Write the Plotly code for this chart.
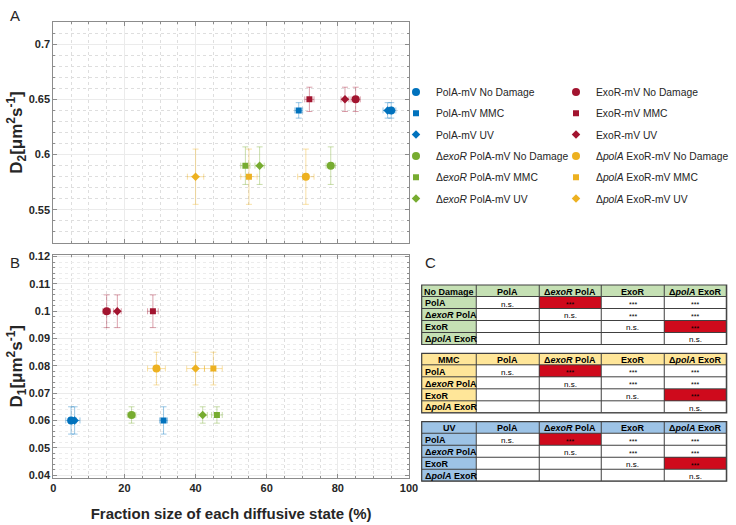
import plotly.graph_objects as go

# ---------------- data ----------------
series_names = [
    "PolA-mV No Damage", "PolA-mV MMC", "PolA-mV UV",
    "ExoR-mV No Damage", "ExoR-mV MMC", "ExoR-mV UV",
    "Δ<i>exoR</i> PolA-mV No Damage", "Δ<i>exoR</i> PolA-mV MMC", "Δ<i>exoR</i> PolA-mV UV",
    "Δ<i>polA</i> ExoR-mV No Damage", "Δ<i>polA</i> ExoR-mV MMC", "Δ<i>polA</i> ExoR-mV UV",
]
series_colors = ["#0072BD"] * 3 + ["#A2142F"] * 3 + ["#77AC30"] * 3 + ["#EDB120"] * 3
series_symbols = ["circle", "square", "diamond"] * 4
series_legend = ["legend"] * 3 + ["legend2"] * 3 + ["legend"] * 3 + ["legend2"] * 3

# Panel A: fast state (D2)
frac_fast = [95, 69, 94, 85, 72, 82, 78, 54, 58, 71, 55, 40]
frac_fast_err = [1.3, 1.1, 1.3, 1.3, 1.3, 1.1, 1.3, 1.3, 1.3, 2.3, 2.3, 2.3]
d2 = [0.64, 0.64, 0.64, 0.65, 0.65, 0.65, 0.59, 0.59, 0.59, 0.58, 0.58, 0.58]
d2_err = [0.007, 0.007, 0.007, 0.011, 0.011, 0.011, 0.017, 0.017, 0.017, 0.025, 0.025, 0.025]

# Panel B: slow state (D1)
frac_slow = [5, 31, 6, 15, 28, 18, 22, 46, 42, 29, 45, 40]
frac_slow_err = [1.5, 1.1, 1.5, 1.1, 1.5, 1.1, 1.2, 1.5, 1.3, 2.5, 2.5, 2.5]
d1 = [0.060, 0.060, 0.060, 0.100, 0.100, 0.100, 0.062, 0.062, 0.062, 0.079, 0.079, 0.079]
d1_err = [0.005, 0.005, 0.005, 0.006, 0.006, 0.006, 0.003, 0.003, 0.003, 0.006, 0.006, 0.006]

# Panel C: pairwise significance tables
table_conditions = ["No Damage", "MMC", "UV"]
table_header_colors = ["#c5e0b4", "#ffe699", "#9dc3e6"]
strain_labels = ["PolA", "Δ<i>exoR</i> PolA", "ExoR", "Δ<i>polA</i> ExoR"]
sig_matrix = [
    ["n.s.", "***", "***", "***"],
    ["", "n.s.", "***", "***"],
    ["", "", "n.s.", "***"],
    ["", "", "", "n.s."],
]
highlight = [(0, 1), (2, 3)]  # (row, col) highlighted red
table_col_widths = [55, 62.5, 62.5, 62.5, 62.5]

# ---------------- figure ----------------
W, H = 736, 525
FONT = "Liberation Sans, Arial, Helvetica, sans-serif"
TXT = "#262626"
RED = "#cf0a1c"
BORDER = "#404040"


def rgba(hexc, a):
    h = hexc.lstrip("#")
    return "rgba(%d,%d,%d,%.2f)" % (int(h[0:2], 16), int(h[2:4], 16), int(h[4:6], 16), a)


marker_sizes = {"circle": 8, "square": 6, "diamond": 6.5}

fig = go.Figure()
for i, name in enumerate(series_names):
    col = series_colors[i]
    sym = series_symbols[i]
    ecol = rgba(col, 0.4)
    fig.add_trace(go.Scatter(
        x=[frac_fast[i]], y=[d2[i]], mode="markers", name=name,
        marker=dict(color=col, symbol=sym, size=marker_sizes[sym], line=dict(width=0)),
        error_x=dict(type="data", array=[frac_fast_err[i]], color=ecol, thickness=1, width=3),
        error_y=dict(type="data", array=[d2_err[i]], color=ecol, thickness=1, width=3),
        xaxis="x", yaxis="y", legend=series_legend[i], legendgroup="g%d" % i,
        showlegend=True,
    ))
for i, name in enumerate(series_names):
    col = series_colors[i]
    sym = series_symbols[i]
    ecol = rgba(col, 0.4)
    fig.add_trace(go.Scatter(
        x=[frac_slow[i]], y=[d1[i]], mode="markers", name=name,
        marker=dict(color=col, symbol=sym, size=marker_sizes[sym], line=dict(width=0)),
        error_x=dict(type="data", array=[frac_slow_err[i]], color=ecol, thickness=1, width=3),
        error_y=dict(type="data", array=[d1_err[i]], color=ecol, thickness=1, width=3),
        xaxis="x2", yaxis="y2", legend=series_legend[i], legendgroup="g%d" % i,
        showlegend=False,
    ))

# ---------------- tables (heatmaps) ----------------
x_edges = [0]
for w in table_col_widths:
    x_edges.append(x_edges[-1] + w)
x_centers = [(x_edges[k] + x_edges[k + 1]) / 2 for k in range(5)]

tbl_x = [421.7 / W, 726.7 / W]
tbl_tops = [285, 353.3, 421.7]
row_h = 11.9
annotations = []
shapes = []
layout_axes = {}
for t, cond in enumerate(table_conditions):
    hc = table_header_colors[t]
    xa = "x%d" % (t + 3)
    ya = "y%d" % (t + 3)
    z = [[1, 1, 1, 1, 1]]
    for r in range(4):
        z.append([1] + [2 if (r, c) in highlight else 0 for c in range(4)])
    fig.add_trace(go.Heatmap(
        z=z, x=x_edges, y=[0, 1, 2, 3, 4, 5], xaxis=xa, yaxis=ya,
        zmin=0, zmax=2, colorscale=[[0, "white"], [0.5, hc], [1, RED]],
        showscale=False, xgap=1, ygap=1, hoverinfo="skip",
    ))
    top = tbl_tops[t]
    bottom = top + 5 * row_h
    layout_axes["xaxis%d" % (t + 3)] = dict(domain=tbl_x, anchor=ya, range=[0, x_edges[-1]],
                                            visible=False, fixedrange=True, automargin=False)
    layout_axes["yaxis%d" % (t + 3)] = dict(domain=[1 - bottom / H, 1 - top / H], anchor=xa,
                                            range=[5, 0], visible=False, fixedrange=True,
                                            automargin=False)
    shapes.append(dict(type="rect", xref=xa + " domain", yref=ya + " domain", x0=0, x1=1, y0=0, y1=1,
                       fillcolor=BORDER, line=dict(width=0), layer="below"))
    shapes.append(dict(type="rect", xref=xa + " domain", yref=ya + " domain", x0=0, x1=1, y0=0, y1=1,
                       fillcolor="rgba(0,0,0,0)", line=dict(width=1.2, color=BORDER), layer="above"))
    header_vals = [cond] + strain_labels
    for c, txt in enumerate(header_vals):
        annotations.append(dict(text="<b>%s</b>" % txt, x=x_centers[c], y=0.55, xref=xa, yref=ya,
                                showarrow=False, xanchor="center", yanchor="middle",
                                font=dict(family=FONT, size=9, color="black")))
    for r in range(4):
        annotations.append(dict(text="<b>%s</b>" % strain_labels[r], x=x_edges[0] + 1.5, y=r + 1.55,
                                xref=xa, yref=ya, showarrow=False, xanchor="left", yanchor="middle",
                                font=dict(family=FONT, size=9, color="black")))
        for c in range(4):
            v = sig_matrix[r][c]
            if v:
                annotations.append(dict(text=v, x=x_centers[c + 1], y=r + (1.6 if v == "n.s." else 1.65),
                                        xref=xa, yref=ya, showarrow=False, xanchor="center",
                                        yanchor="middle",
                                        font=dict(family=FONT, size=8 if v == "n.s." else 7, color="black")))

xdom = [53.3 / W, 409 / W]
axis_common = dict(
    showline=True, linecolor="#8c8c8c", linewidth=1, mirror="ticks",
    ticks="inside", ticklen=4, tickcolor="#8c8c8c", automargin=False,
    showgrid=True, gridcolor="#ebebeb", gridwidth=1, zeroline=False,
    tickfont=dict(family=FONT, size=11, color=TXT),
)
minor_x = dict(dtick=5, ticks="inside", ticklen=2, tickcolor="#8c8c8c",
               showgrid=True, gridcolor="#dedede", griddash="dot")

for lbl, yy in [("A", 15), ("B", 262)]:
    annotations.append(dict(text=lbl, x=8 / W, y=1 - yy / H, xref="paper", yref="paper", showarrow=False,
                            xanchor="left", yanchor="middle", font=dict(family=FONT, size=15, color=TXT)))
annotations.append(dict(text="C", x=423 / W, y=1 - 262 / H, xref="paper", yref="paper", showarrow=False,
                        xanchor="left", yanchor="middle", font=dict(family=FONT, size=15, color=TXT)))

legend_common = dict(xanchor="left", yanchor="top", font=dict(family=FONT, size=10.3, color=TXT),
                     bgcolor="rgba(0,0,0,0)", tracegroupgap=2.3, itemclick=False, borderwidth=0)

fig.update_layout(
    template="none",
    width=W, height=H, margin=dict(l=0, r=0, t=0, b=0, autoexpand=False),
    paper_bgcolor="white", plot_bgcolor="white",
    font=dict(family=FONT, color=TXT),
    hovermode=False,
    xaxis=dict(domain=xdom, anchor="y", range=[0, 100], dtick=20, showticklabels=False,
               matches="x2", minor=minor_x, **axis_common),
    yaxis=dict(domain=[1 - 243 / H, 1 - 22 / H], anchor="x", range=[0.52, 0.72],
               tickvals=[0.55, 0.6, 0.65, 0.7], ticktext=["<b>0.55</b>", "<b>0.6</b>", "<b>0.65</b>", "<b>0.7</b>"],
               minor=dict(dtick=0.01, ticks="inside", ticklen=2, tickcolor="#8c8c8c",
                          showgrid=True, gridcolor="#dedede", griddash="dot"),
               title=dict(text="<b>D<sub>2</sub>[μm<sup>2</sup>s<sup>-1</sup>]</b>",
                          font=dict(family=FONT, size=17, color=TXT), standoff=1),
               **axis_common),
    xaxis2=dict(domain=xdom, anchor="y2", range=[0, 100],
                tickvals=[0, 20, 40, 60, 80, 100],
                ticktext=["<b>%d</b>" % v for v in [0, 20, 40, 60, 80, 100]],
                minor=minor_x,
                title=dict(text="<b>Fraction size of each diffusive state (%)</b>",
                           font=dict(family=FONT, size=15, color=TXT), standoff=15),
                **axis_common),
    yaxis2=dict(domain=[1 - 477.5 / H, 1 - 255 / H], anchor="x2", range=[0.0391, 0.1206],
                tickvals=[0.04, 0.05, 0.06, 0.07, 0.08, 0.09, 0.1, 0.11, 0.12],
                ticktext=["<b>%s</b>" % s for s in ["0.04", "0.05", "0.06", "0.07", "0.08", "0.09", "0.1", "0.11", "0.12"]],
                minor=dict(dtick=0.002, ticks="inside", ticklen=2, tickcolor="#8c8c8c",
                           showgrid=True, gridcolor="#ececec", griddash="dot"),
                title=dict(text="<b>D<sub>1</sub>[μm<sup>2</sup>s<sup>-1</sup>]</b>",
                           font=dict(family=FONT, size=17, color=TXT), standoff=1),
                **axis_common),
    legend=dict(x=396 / W, y=1 - 77.5 / H, **legend_common),
    legend2=dict(x=556 / W, y=1 - 77.5 / H, **legend_common),
    annotations=annotations,
    shapes=shapes,
    **layout_axes,
)

fig.write_html("out.html", config={"displayModeBar": False, "staticPlot": False},
               post_script="document.body.style.margin='0';document.body.style.overflow='hidden';")
